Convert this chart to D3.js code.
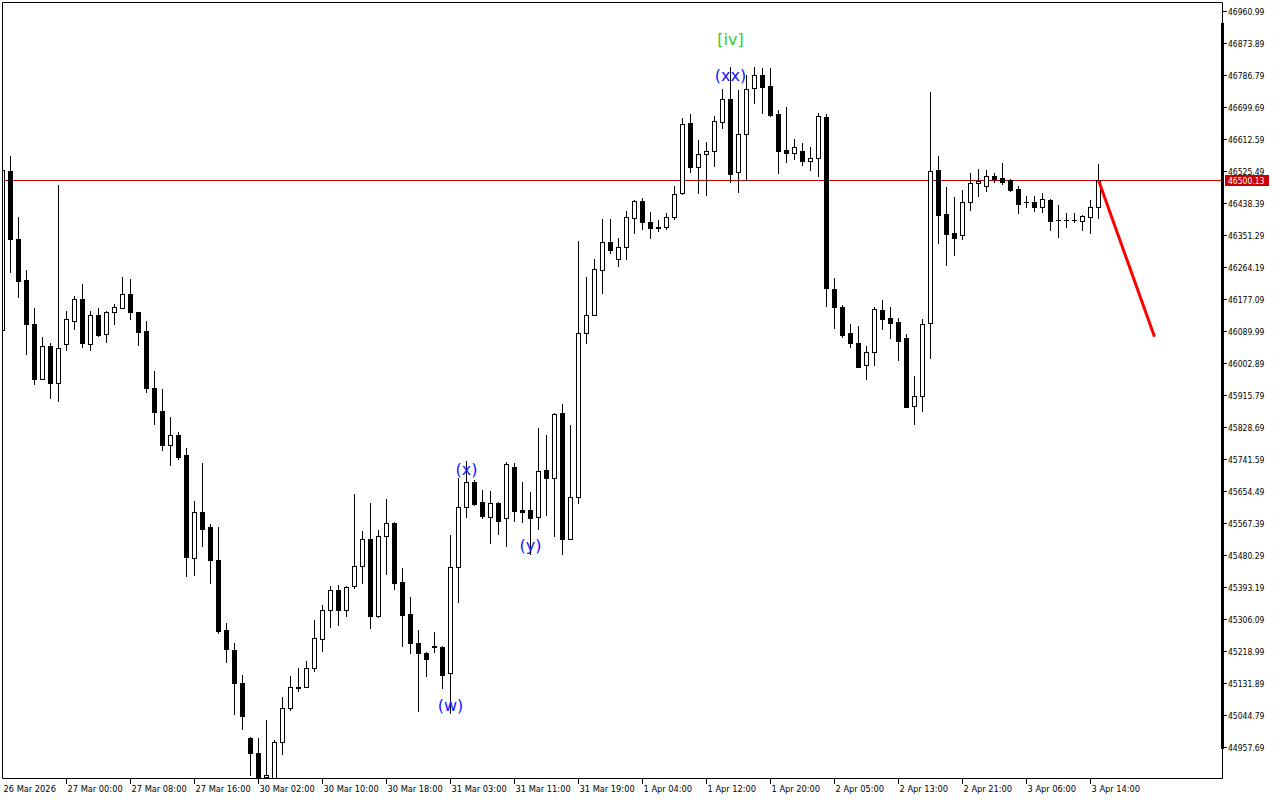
<!DOCTYPE html>
<html>
<head>
<meta charset="utf-8">
<script src="https://cdn.jsdelivr.net/npm/d3@7/dist/d3.min.js"></script>
<style>
  html, body { margin: 0; padding: 0; background: #ffffff; }
  svg { display: block; }
  .ax { font-family: "DejaVu Sans Condensed", "DejaVu Sans", sans-serif; font-stretch: condensed; font-size: 8.5px; fill: #000; }
  .axb { font-family: "DejaVu Sans Condensed", "DejaVu Sans", sans-serif; font-stretch: condensed; font-size: 9.2px; fill: #000; }
  .wave { font-family: "DejaVu Sans", sans-serif; font-size: 16px; }
</style>
</head>
<body>
<svg id="chart" width="1280" height="800"></svg>
<script>
// ---- data (H1 candles, oldest first) ----
const opens = [46093.80,46524.95,46340.40,46229.35,46110.40,45960.43,46048.34,45949.27,46055.96,46118.30,46177.09,46055.96,46132.73,46080.47,46140.62,46153.68,46190.43,46140.62,46090.54,45935.93,45871.69,45780.51,45807.19,45752.75,45472.67,45597.33,45556.77,45466.68,45276.43,45221.17,45131.89,44982.19,44940.82,44876.04,44873.59,44971.03,45063.03,45118.28,45121.01,45172.45,45251.66,45330.59,45385.02,45330.59,45394.82,45450.07,45523.84,45313.99,45530.91,45566.57,45406.80,45319.70,45239.95,45212.73,45232.60,45230.70,45158.30,45446.81,45610.12,45678.17,45623.73,45584.53,45621.01,45580.18,45719.00,45602.77,45602.77,45582.90,45711.65,45689.06,45865.98,45524.65,45637.34,46083.73,46132.73,46255.21,46331.43,46285.15,46317.82,46396.75,46443.02,46385.86,46373.07,46372.25,46399.47,46464.79,46656.14,46537.19,46570.94,46579.11,46658.04,46720.65,46521.95,46625.38,46750.59,46786.79,46756.85,46680.63,46582.65,46573.66,46579.92,46553.52,46560.05,46671.65,46203.50,46154.50,46083.73,46056.51,45996.63,46032.02,46147.15,46124.56,46113.67,46070.12,45885.85,45913.07,46110.95,46528.21,46408.45,46355.92,46350.48,46440.30,46493.64,46485.48,46511.88,46507.25,46500.99,46476.49,46440.30,46441.12,46428.32,46446.56,46392.12,46391.31,46392.12,46390.22,46401.10,46426.69];
const highs = [46541.82,46566.05,46400.56,46256.03,46152.59,46073.93,46057.05,46487.11,46144.97,46186.07,46218.19,46143.88,46152.59,46143.88,46163.75,46237.25,46231.53,46140.62,46117.21,45981.66,45931.58,45856.18,45815.08,45771.53,45627.27,45730.70,45564.12,45556.77,45294.66,45241.31,45153.94,44984.91,44983.01,45032.54,44977.56,45094.33,45151.22,45173.27,45192.59,45302.01,45345.29,45396.73,45398.63,45395.91,45646.87,45545.61,45622.91,45547.52,45632.99,45571.47,45444.09,45365.15,45276.15,45217.09,45269.89,45232.60,45534.72,45689.06,45736.15,45684.43,45657.21,45654.49,45625.36,45734.24,45729.89,45678.17,45650.95,45825.15,45806.91,45865.98,45891.29,45834.13,46334.96,46236.16,46285.15,46394.84,46394.84,46342.31,46416.62,46446.56,46452.00,46413.90,46392.12,46410.36,46484.66,46668.93,46680.63,46609.86,46604.42,46675.19,46747.87,46809.38,46745.96,46786.79,46809.38,46805.03,46805.03,46691.52,46700.50,46612.59,46602.51,46590.00,46682.54,46680.63,46233.44,46160.76,46109.04,46103.60,46049.16,46154.50,46174.37,46154.50,46124.56,46081.01,45967.51,46122.65,46741.33,46567.13,46482.75,46455.53,46473.77,46520.86,46530.93,46528.21,46520.86,46548.08,46503.71,46484.66,46457.44,46457.44,46466.42,46448.46,46432.95,46411.99,46410.36,46405.73,46446.56,46544.54];
const lows = [46084.54,46251.68,46182.81,46027.12,45947.09,45960.43,45907.08,45898.37,46038.28,46095.98,46047.25,46038.28,46076.11,46060.60,46110.40,46153.68,46121.57,46051.61,45925.05,45838.21,45767.17,45723.90,45740.50,45423.94,45427.21,45506.14,45405.16,45269.08,45189.05,45046.42,45006.96,44881.48,44867.87,44867.87,44871.68,44938.91,45058.40,45109.03,45121.01,45163.20,45219.27,45283.78,45288.40,45313.17,45391.28,45405.16,45281.05,45311.27,45429.93,45386.93,45233.42,45214.37,45056.50,45151.76,45217.09,45117.47,45049.42,45353.18,45582.90,45616.38,45580.18,45513.76,45537.45,45505.60,45573.65,45570.93,45483.01,45551.06,45589.16,45532.82,45482.19,45524.65,45621.01,46058.14,46132.73,46192.61,46301.48,46267.73,46286.79,46355.92,46366.81,46343.95,46361.37,46366.81,46394.03,46462.07,46523.58,46464.79,46460.98,46539.91,46643.34,46496.36,46469.14,46500.99,46711.39,46684.17,46676.01,46520.86,46550.80,46557.33,46541.82,46528.21,46511.88,46158.04,46098.97,46072.84,46045.63,45992.82,45960.16,45997.45,46094.62,46071.76,46011.06,45882.31,45836.04,45873.06,46017.32,46330.33,46269.64,46296.86,46340.40,46419.34,46457.44,46471.05,46495.55,46490.10,46471.87,46411.99,46428.32,46417.44,46414.71,46364.90,46346.67,46373.89,46386.68,46364.90,46357.55,46397.57];
const closes = [46528.21,46340.40,46227.18,46110.40,45960.43,46048.34,45949.27,46044.81,46122.65,46177.09,46058.14,46132.73,46079.38,46141.71,46155.04,46190.43,46140.62,46086.18,45935.93,45870.61,45780.51,45807.19,45747.31,45475.12,45597.33,45552.14,45466.68,45274.52,45223.08,45131.89,45041.80,44942.45,44876.04,44880.12,44971.03,45063.84,45121.01,45121.01,45172.45,45254.38,45330.59,45385.02,45330.59,45393.19,45450.07,45523.84,45313.99,45530.91,45566.84,45404.89,45317.80,45239.95,45212.73,45196.40,45229.88,45154.49,45446.81,45610.12,45678.17,45619.10,45587.26,45621.01,45573.65,45727.16,45600.87,45598.69,45580.18,45708.93,45689.06,45864.07,45524.65,45637.34,46083.73,46132.73,46257.93,46331.43,46311.28,46317.82,46399.47,46443.02,46385.86,46369.53,46370.35,46399.47,46462.07,46652.60,46537.19,46570.94,46579.11,46660.76,46720.65,46518.14,46625.38,46747.87,46786.79,46754.94,46678.73,46580.74,46573.66,46590.00,46553.52,46560.05,46675.19,46207.85,46154.50,46079.92,46056.51,45992.82,46032.02,46149.06,46123.47,46112.58,46063.59,45882.31,45913.07,46108.23,46525.49,46405.73,46354.02,46343.95,46440.30,46492.01,46499.08,46511.88,46503.71,46496.36,46473.77,46436.49,46441.93,46428.32,46449.27,46390.22,46390.76,46391.80,46392.40,46403.01,46426.69,46500.13];

const priceTicks = [46960.99,46873.89,46786.79,46699.69,46612.59,46525.49,46438.39,46351.29,46264.19,46177.09,46089.99,46002.89,45915.79,45828.69,45741.59,45654.49,45567.39,45480.29,45393.19,45306.09,45218.99,45131.89,45044.79,44957.69];
const timeTickIndex = [0,8,16,24,32,40,48,56,64,72,80,88,96,104,112,120,128,136];
const timeTickLabels = ["26 Mar 2026","27 Mar 00:00","27 Mar 08:00","27 Mar 16:00","30 Mar 02:00","30 Mar 10:00","30 Mar 18:00","31 Mar 03:00","31 Mar 11:00","31 Mar 19:00","1 Apr 04:00","1 Apr 12:00","1 Apr 20:00","2 Apr 05:00","2 Apr 13:00","2 Apr 21:00","3 Apr 06:00","3 Apr 14:00"];

const currentPrice = 46500.13;
const forecastIndex = [137, 144];
const forecastPrice = [46500.13, 46074.48];

const waveText  = ["[iv]", "(xx)", "(x)", "(y)", "(w)"];
const waveIndex = [91, 91, 58, 66, 56];
const wavePrice = [46869.8, 46769.1, 45696.7, 45492.5, 45057.0];
const waveColor = ["#32cd32", "#1414ff", "#1414ff", "#1414ff", "#1414ff"];

// ---- layout ----
const plotL = 2, plotR = 1222, plotT = 2, plotB = 778;
const svg = d3.select("#chart");
svg.append("rect").attr("width", 1280).attr("height", 800).attr("fill", "#fff");

const y = d3.scaleLinear().domain([44957.69, 46960.99]).range([747, 11]);
const x = d3.scaleLinear().domain([0, 137]).range([2.5, 1098.5]);

const defs = svg.append("defs");
defs.append("clipPath").attr("id", "plotclip").append("rect")
  .attr("x", plotL + 0.5).attr("y", plotT + 1).attr("width", plotR - plotL - 0.5).attr("height", plotB - plotT - 1);

const plot = svg.append("g").attr("clip-path", "url(#plotclip)");

// current price line
const cpY = Math.round(y(currentPrice)) + 0.5;
plot.append("line").attr("x1", plotL).attr("x2", plotR).attr("y1", cpY).attr("y2", cpY)
  .attr("stroke", "#c80000").attr("stroke-width", 1);

// candles
const data = opens.map((o, i) => ({ i, o, h: highs[i], l: lows[i], c: closes[i] }));
const cg = plot.append("g");
data.forEach(d => {
  const cx = x(d.i);
  const yh = Math.round(y(d.h)), yl = Math.round(y(d.l));
  const top = Math.round(y(Math.max(d.o, d.c))), bot = Math.round(y(Math.min(d.o, d.c)));
  cg.append("line").attr("x1", cx).attr("x2", cx).attr("y1", yh).attr("y2", yl + 1)
    .attr("stroke", "#000").attr("stroke-width", 1);
  const bull = d.c >= d.o;
  if (bot - top < 1) {
    cg.append("line").attr("x1", cx - 2.5).attr("x2", cx + 2.5).attr("y1", top + 0.5).attr("y2", top + 0.5)
      .attr("stroke", "#000").attr("stroke-width", 1);
  } else if (bull) {
    cg.append("rect").attr("x", cx - 2).attr("y", top + 0.5).attr("width", 4).attr("height", bot - top)
      .attr("fill", "#fff").attr("stroke", "#000").attr("stroke-width", 1);
  } else {
    cg.append("rect").attr("x", cx - 2.5).attr("y", top).attr("width", 5).attr("height", bot - top + 1)
      .attr("fill", "#000");
  }
});

// forecast line
plot.append("line")
  .attr("x1", x(forecastIndex[0])).attr("y1", y(forecastPrice[0]))
  .attr("x2", x(forecastIndex[1])).attr("y2", y(forecastPrice[1]))
  .attr("stroke", "#ff0000").attr("stroke-width", 3);

// wave labels
waveText.forEach((t, k) => {
  plot.append("text").attr("class", "wave")
    .attr("x", x(waveIndex[k])).attr("y", y(wavePrice[k]))
    .attr("text-anchor", "middle").attr("fill", waveColor[k]).text(t);
});

// frame
svg.append("path")
  .attr("d", `M${plotL + 0.5},${plotT + 0.5}H${plotR + 0.5}V${plotB + 0.5}H${plotL + 0.5}Z`)
  .attr("fill", "none").attr("stroke", "#000").attr("stroke-width", 1);
// thick bar on price scale
svg.append("rect").attr("x", plotR - 1).attr("y", 23).attr("width", 3).attr("height", 726).attr("fill", "#000");

// price axis
const ya = svg.append("g");
priceTicks.forEach(p => {
  const py = Math.round(y(p));
  ya.append("line").attr("x1", plotR).attr("x2", plotR + 5).attr("y1", py + 0.5).attr("y2", py + 0.5)
    .attr("stroke", "#000").attr("stroke-width", 1);
  ya.append("text").attr("class", "ax").attr("x", plotR + 6).attr("y", py + 4).text(p.toFixed(2));
});
// current price tag
ya.append("rect").attr("x", plotR + 3).attr("y", cpY - 5.5).attr("width", 44).attr("height", 11).attr("fill", "#c80000");
ya.append("text").attr("class", "ax").attr("x", plotR + 6).attr("y", cpY + 3.5)
  .style("fill", "#fff").text(currentPrice.toFixed(2));

// time axis
const xa = svg.append("g");
timeTickIndex.forEach((ti, k) => {
  const tx = x(ti);
  if (k > 0) {
    xa.append("line").attr("x1", tx).attr("x2", tx).attr("y1", plotB + 1).attr("y2", plotB + 6)
      .attr("stroke", "#000").attr("stroke-width", 1);
  }
  xa.append("text").attr("class", "axb").attr("x", tx + 1).attr("y", plotB + 14).text(timeTickLabels[k]);
});
</script>
</body>
</html>
